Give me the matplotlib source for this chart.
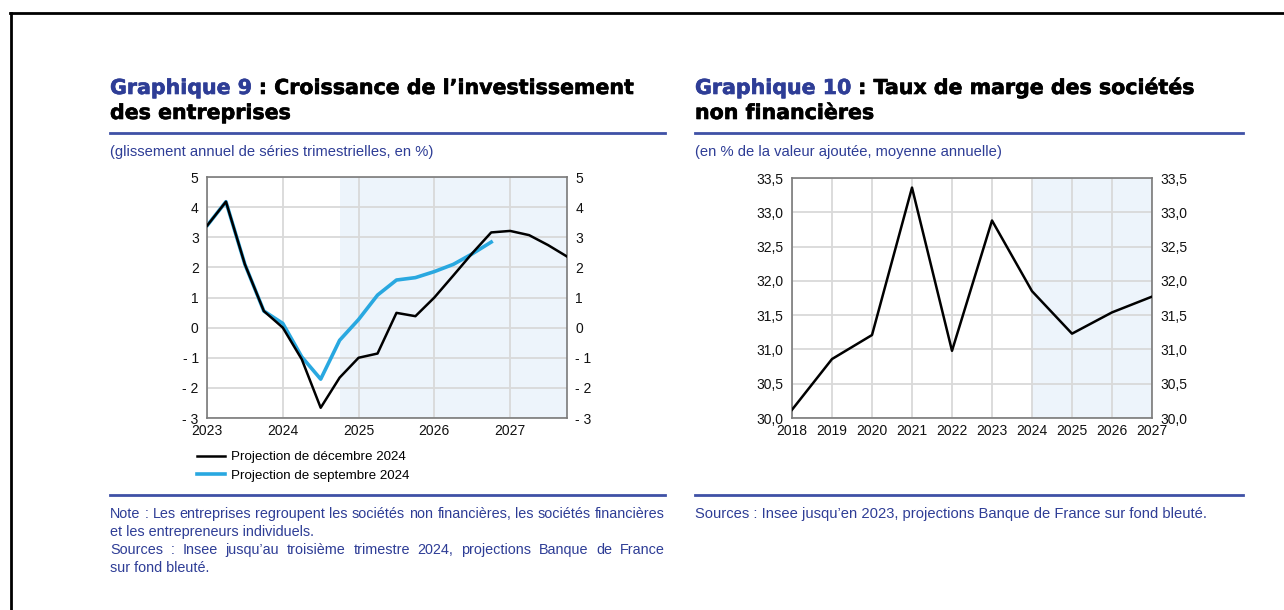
import numpy as np
import matplotlib.pyplot as plt
import matplotlib.patheffects as pe
from matplotlib.lines import Line2D
from matplotlib.ticker import FuncFormatter, MultipleLocator

plt.rcParams['font.family'] = ['Liberation Sans', 'DejaVu Sans']

# Graphique 9 : croissance de l'investissement (trimestriel)
quarters = [2023 + 0.25 * i for i in range(20)]
proj_dec = [3.38, 4.18, 2.1, 0.55, 0.0, -1.05, -2.66, -1.66, -1.0, -0.86,
            0.49, 0.38, 1.0, 1.73, 2.47, 3.16, 3.21, 3.07, 2.74, 2.36]
proj_sep = [3.38, 4.18, 2.1, 0.55, 0.14, -0.97, -1.71, -0.42, 0.27, 1.08,
            1.58, 1.66, 1.86, 2.10, 2.45, 2.84]
years9 = [2023, 2024, 2025, 2026, 2027]

# Graphique 10 : taux de marge des SNF (annuel)
years10 = [2018, 2019, 2020, 2021, 2022, 2023, 2024, 2025, 2026, 2027]
taux_marge = [30.12, 30.86, 31.21, 33.36, 30.98, 32.88, 31.85, 31.23, 31.54, 31.77]

BLUE_TXT = '#2e3d96'
RULE = '#3f51a6'
SHADE = '#edf4fb'
GRID = '#d9d9d9'
LINE_BLUE = '#29a8e0'

W, H = 1284, 610
fig = plt.figure(figsize=(W / 100, H / 100), dpi=100)

TITLE_FONT = dict(family='DejaVu Sans', fontweight='bold', fontsize=14.8)


def fx(px):
    return px / W


def fy(py):
    return 1 - py / H


def hline(x0, x1, y, color=RULE, lw=2):
    fig.add_artist(Line2D([fx(x0), fx(x1)], [fy(y), fy(y)], color=color, lw=lw))


def heavy(color):
    return [pe.withStroke(linewidth=0.45, foreground=color)]


def title(x, y, blue, rest, second):
    t = fig.text(fx(x), fy(y), blue, color=BLUE_TXT, va='baseline',
                 path_effects=heavy(BLUE_TXT), **TITLE_FONT)
    fig.canvas.draw()
    bb = t.get_window_extent()
    fig.text(bb.x1 / W, fy(y), rest, color='black', va='baseline',
             path_effects=heavy('black'), **TITLE_FONT)
    fig.text(fx(x), fy(y + 25), second, color='black', va='baseline',
             path_effects=heavy('black'), **TITLE_FONT)


def justified(x0, x1, y, line, size):
    # place words one by one so the line fills x0..x1
    r = fig.canvas.get_renderer()
    words = line.split(' ')
    arts = [fig.text(0, fy(y), w, color=BLUE_TXT, fontsize=size, va='baseline') for w in words]
    widths = [a.get_window_extent(r).width for a in arts]
    gap = (x1 - x0 - sum(widths)) / (len(words) - 1)
    x = x0
    for a, w in zip(arts, widths):
        a.set_x(fx(x))
        x += w + gap


def fmt9(v, pos):
    v = int(round(v))
    return f'- {abs(v)}' if v < 0 else str(v)


def fmt10(v, pos):
    return f'{v:.1f}'.replace('.', ',')


def style(ax):
    ax.grid(True, color=GRID, lw=1.3)
    ax.set_axisbelow(True)
    for s in ax.spines.values():
        s.set_color('#7a7a7a')
        s.set_linewidth(1.2)
    ax.tick_params(length=0, labelsize=10, labelcolor='#111111', pad=4)
    ax.tick_params(axis='y', labelright=True, pad=6)


# cadre
fig.add_artist(Line2D([fx(10), 1], [fy(13), fy(13)], color='black', lw=2))
fig.add_artist(Line2D([fx(11), fx(11)], [fy(13), 0], color='black', lw=2))

# ---- graphique 9 ----
ax1 = fig.add_axes([fx(207), fy(418), fx(360), (418 - 177) / H])
ax1.axvspan(2024.75, 2027.75, color=SHADE, lw=0, zorder=0)
ax1.plot(quarters, proj_dec, color='black', lw=1.8, label='Projection de décembre 2024', zorder=3)
ax1.plot(quarters[:len(proj_sep)], proj_sep, color=LINE_BLUE, lw=2.6,
         label='Projection de septembre 2024', zorder=2)
ax1.set_xlim(2023, 2027.75)
ax1.set_ylim(-3, 5)
ax1.set_xticks(years9)
ax1.yaxis.set_major_locator(MultipleLocator(1))
ax1.yaxis.set_major_formatter(FuncFormatter(fmt9))
style(ax1)
h, l = ax1.get_legend_handles_labels()
h = [Line2D([], [], color='black', lw=1.8), Line2D([], [], color=LINE_BLUE, lw=2.6)]
fig.legend(h, l, loc='upper left', bbox_to_anchor=(fx(197), fy(451)), frameon=False,
           fontsize=9.6, handlelength=2.1, handletextpad=0.45, labelspacing=0.45,
           borderaxespad=0, borderpad=0)

title(110, 94, 'Graphique 9', ' : Croissance de l\u2019investissement', 'des entreprises')
hline(110, 665, 133)
fig.text(fx(110), fy(156), '(glissement annuel de séries trimestrielles, en %)',
         color=BLUE_TXT, fontsize=10.6, va='baseline')
hline(110, 665, 495)
notes = ['Note : Les entreprises regroupent les sociétés non financières, les sociétés financières',
         'et les entrepreneurs individuels.',
         'Sources : Insee jusqu\u2019au troisième trimestre 2024, projections Banque de France',
         'sur fond bleuté.']
for i, s in enumerate(notes):
    if i in (0, 2):
        justified(110, 665, 518 + 18 * i, s, 10.4)
    else:
        fig.text(fx(110), fy(518 + 18 * i), s, color=BLUE_TXT, fontsize=10.4, va='baseline')

# ---- graphique 10 ----
ax2 = fig.add_axes([fx(792), fy(418), fx(360), (418 - 178) / H])
ax2.axvspan(2024, 2027, color=SHADE, lw=0, zorder=0)
ax2.plot(years10, taux_marge, color='black', lw=1.8, zorder=3)
ax2.set_xlim(2018, 2027)
ax2.set_ylim(30, 33.5)
ax2.set_xticks(years10)
ax2.yaxis.set_major_locator(MultipleLocator(0.5))
ax2.yaxis.set_major_formatter(FuncFormatter(fmt10))
style(ax2)

title(695, 94, 'Graphique 10', ' : Taux de marge des sociétés', 'non financières')
hline(695, 1243, 133)
fig.text(fx(695), fy(156), '(en % de la valeur ajoutée, moyenne annuelle)',
         color=BLUE_TXT, fontsize=10.6, va='baseline')
hline(695, 1243, 495)
fig.text(fx(695), fy(518), 'Sources : Insee jusqu\u2019en 2023, projections Banque de France sur fond bleuté.',
         color=BLUE_TXT, fontsize=10.6, va='baseline')

fig.savefig('out.png', dpi=100)
